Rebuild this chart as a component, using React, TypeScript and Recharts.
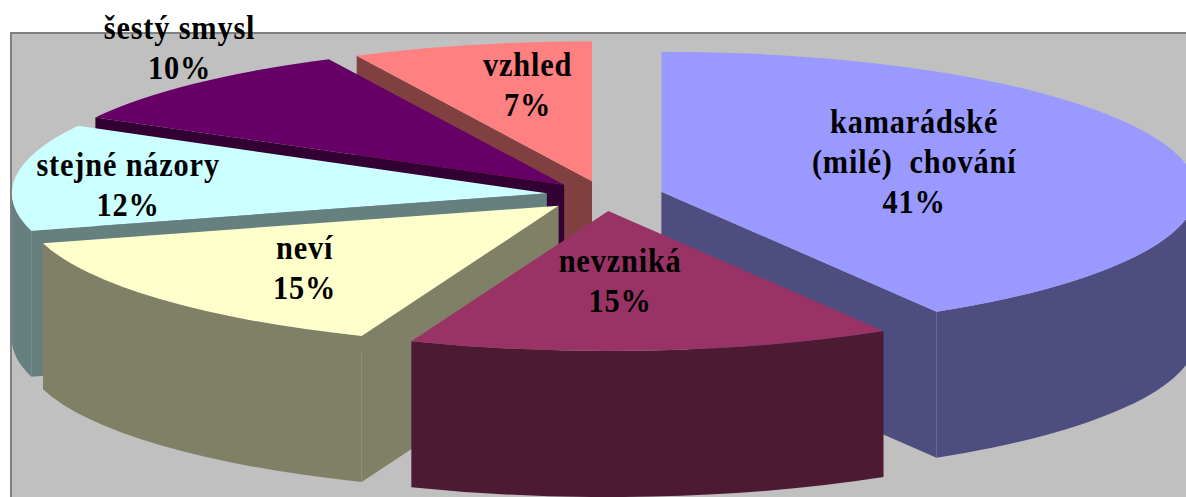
import { Pie, PieChart } from "recharts"

// paint order: back slices first, nevzniká last (it overlaps its neighbours' walls)
const categories = ["kamarádské (milé) chování", "vzhled", "šestý smysl", "stejné názory", "neví", "nevzniká"]
const shares = [41.4, 7.25, 9.75, 12.3, 14.7, 14.6]
const labelLines = [["kamarádské", "(milé)  chování"], ["vzhled"], ["šestý smysl"], ["stejné názory"], ["neví"], ["nevzniká"]]

const topColors = ["#9999FF", "#FF8080", "#660066", "#CCFFFF", "#FFFFCC", "#993366"]
const sideColors = ["#4D4D80", "#804040", "#330033", "#668080", "#808066", "#4C1A33"]
const explodeX = [0.119, 0.066, 0.097, 0.1, 0.104, 0.19]
const explodeY = [0.09, 0.1, 0.1, 0.104, 0.115, 0.115]
const labelNudge = [[-5, -10], [-4, -27], [-200, -85], [-153, 1], [-55, 16], [-10, 1]]

const RX = 535
const RY = 140
const DEPTH = 146
const LINE = 40

const data = categories.map((name, i) => ({ name, value: shares[i] }))

const rad = (deg: number) => (deg * Math.PI) / 180

function sliceGeometry(p: any) {
  const i = categories.indexOf(p.name)
  const span = Math.abs(p.endAngle - p.startAngle)
  const from = (((90 - p.endAngle) % 360) + 360) % 360
  const to = from + span
  const mid = from + span / 2
  const ax = p.cx + explodeX[i] * RX * Math.sin(rad(mid))
  const ay = p.cy - explodeY[i] * RY * Math.cos(rad(mid))
  return { i, from, to, mid, ax, ay }
}

function Slice(props: any) {
  const { i, from, to, ax, ay } = sliceGeometry(props)
  const pt = (t: number, d = 0) => `${ax + RX * Math.sin(rad(t))} ${ay - RY * Math.cos(rad(t)) + d}`
  const large = to - from > 180 ? 1 : 0
  const side = sideColors[i]

  const wallFrom = Math.max(from, 90)
  const wallTo = Math.min(to, 270)

  return (
    <g>
      {Math.sin(rad(from)) < -1e-6 && (
        <path d={`M${ax} ${ay}L${pt(from)}L${pt(from, DEPTH)}L${ax} ${ay + DEPTH}Z`} fill={side} />
      )}
      {Math.sin(rad(to)) > 1e-6 && (
        <path d={`M${ax} ${ay}L${pt(to)}L${pt(to, DEPTH)}L${ax} ${ay + DEPTH}Z`} fill={side} />
      )}
      {wallFrom < wallTo && (
        <path
          d={`M${pt(wallFrom)}A${RX} ${RY} 0 0 1 ${pt(wallTo)}L${pt(wallTo, DEPTH)}A${RX} ${RY} 0 0 0 ${pt(wallFrom, DEPTH)}Z`}
          fill={side}
        />
      )}
      <path d={`M${ax} ${ay}L${pt(from)}A${RX} ${RY} 0 ${large} 1 ${pt(to)}Z`} fill={topColors[i]} />
    </g>
  )
}

function SliceLabel(props: any) {
  const { i, mid, ax, ay } = sliceGeometry(props)
  const x = ax + 0.5 * RX * Math.sin(rad(mid)) + labelNudge[i][0]
  const y = ay - 0.5 * RY * Math.cos(rad(mid)) + labelNudge[i][1]
  const lines = [...labelLines[i], `${Math.round(props.value)}%`]
  const first = y - ((lines.length - 1) / 2) * LINE + 10
  // the original text is a little taller than it is wide
  return (
    <text
      transform={`translate(${x} 0) scale(0.92 1)`}
      textAnchor="middle"
      fill="#000"
      stroke="none"
      style={{ fontFamily: "'Liberation Serif'", fontWeight: 700, fontSize: 33, letterSpacing: 0.9, whiteSpace: "pre" }}
    >
      {lines.map((line, n) => (
        <tspan key={n} x={0} y={first + n * LINE}>
          {line}
        </tspan>
      ))}
    </text>
  )
}

export default function App() {
  return (
    <div style={{ position: "absolute", left: 0, top: 0, width: 1186, height: 497, overflow: "hidden", background: "#fff" }}>
      <div
        style={{
          position: "absolute",
          left: 10,
          top: 32,
          right: -4,
          bottom: -4,
          background: "#C0C0C0",
          borderTop: "2px solid #808080",
          borderLeft: "2px solid #808080"
        }}
      />
      <div style={{ position: "absolute", left: 0, top: 0 }}>
        <PieChart width={1186} height={497} margin={{ top: 0, right: 0, bottom: 0, left: 0 }}>
          <Pie
            data={data}
            dataKey="value"
            nameKey="name"
            cx={600}
            cy={195}
            outerRadius={RX}
            startAngle={90 - shares[0] * 3.6}
            endAngle={450 - shares[0] * 3.6}
            shape={Slice}
            label={SliceLabel}
            labelLine={false}
            isAnimationActive={false}
          />
        </PieChart>
      </div>
    </div>
  )
}
